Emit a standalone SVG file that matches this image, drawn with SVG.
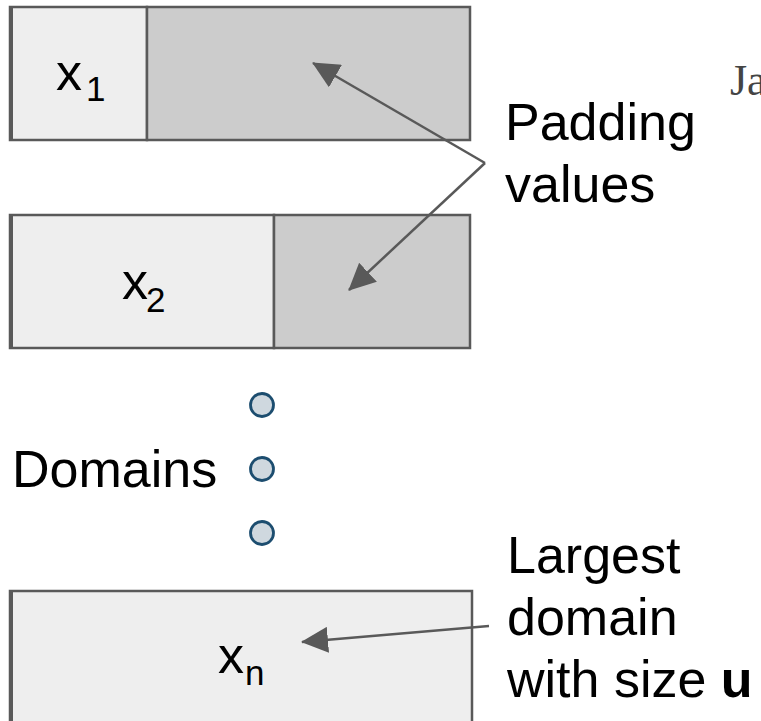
<svg xmlns="http://www.w3.org/2000/svg" width="761" height="721" viewBox="0 0 761 721">
<style>
.box{stroke:#595959;stroke-width:2.5}
.light{fill:#eeeeee}
.dark{fill:#cccccc}
.edge{stroke:#595959;stroke-width:4}
.t{font-family:"Liberation Sans",Arial,sans-serif;fill:#000}
.big{font-size:52px}
.sub{font-size:35px}
.dot{fill:#cfd8df;stroke:#1c4d6f;stroke-width:2.8}
.conn{stroke:#595959;stroke-width:2.5;fill:none}
</style>
<defs>
<marker id="ah" markerUnits="userSpaceOnUse" markerWidth="27" markerHeight="26" refX="26" refY="13" orient="auto" viewBox="0 0 27 26">
<path d="M0,0 L27,13 L0,26 z" fill="#595959"/>
</marker>
</defs>
<rect width="761" height="721" fill="#ffffff"/>
<g id="domain1">
<rect class="box light" x="10" y="7" width="137" height="133"/>
<rect class="box dark" x="147" y="7" width="323" height="133"/>
<line class="edge" x1="11" y1="6" x2="11" y2="141"/>
<text class="t big" x="56" y="90">x</text>
<text class="t sub" x="86" y="101">1</text>
</g>
<g id="domain2">
<rect class="box light" x="10" y="215" width="264" height="133"/>
<rect class="box dark" x="274" y="215" width="196" height="133"/>
<line class="edge" x1="11" y1="214" x2="11" y2="349"/>
<text class="t big" x="122" y="299">x</text>
<text class="t sub" x="146" y="312">2</text>
</g>
<g id="ellipsis">
<circle class="dot" cx="262" cy="405" r="11.5"/>
<circle class="dot" cx="262" cy="469" r="11.5"/>
<circle class="dot" cx="262" cy="533" r="11.5"/>
</g>
<g id="domainn">
<rect class="box light" x="10" y="591" width="462" height="133"/>
<line class="edge" x1="11" y1="590" x2="11" y2="724"/>
<text class="t big" x="218" y="673">x</text>
<text class="t sub" x="245" y="685">n</text>
</g>
<g id="labels">
<text class="t big" x="12" y="487">Domains</text>
<text class="t big" x="505" y="140">Padding</text>
<text class="t big" x="505" y="202">values</text>
<text class="t big" x="507" y="573">Largest</text>
<text class="t big" x="507" y="635">domain</text>
<text class="t big" x="507" y="697">with size <tspan font-weight="bold">u</tspan></text>
<text x="730" y="95" font-family="'Liberation Serif','Times New Roman',serif" font-size="44" fill="#444444">Ja</text>
</g>
<g id="connectors">
<line class="conn" x1="485" y1="163" x2="313" y2="63" marker-end="url(#ah)"/>
<line class="conn" x1="485" y1="163" x2="349" y2="290" marker-end="url(#ah)"/>
<line class="conn" x1="489" y1="626" x2="302" y2="642" marker-end="url(#ah)"/>
</g>
</svg>
